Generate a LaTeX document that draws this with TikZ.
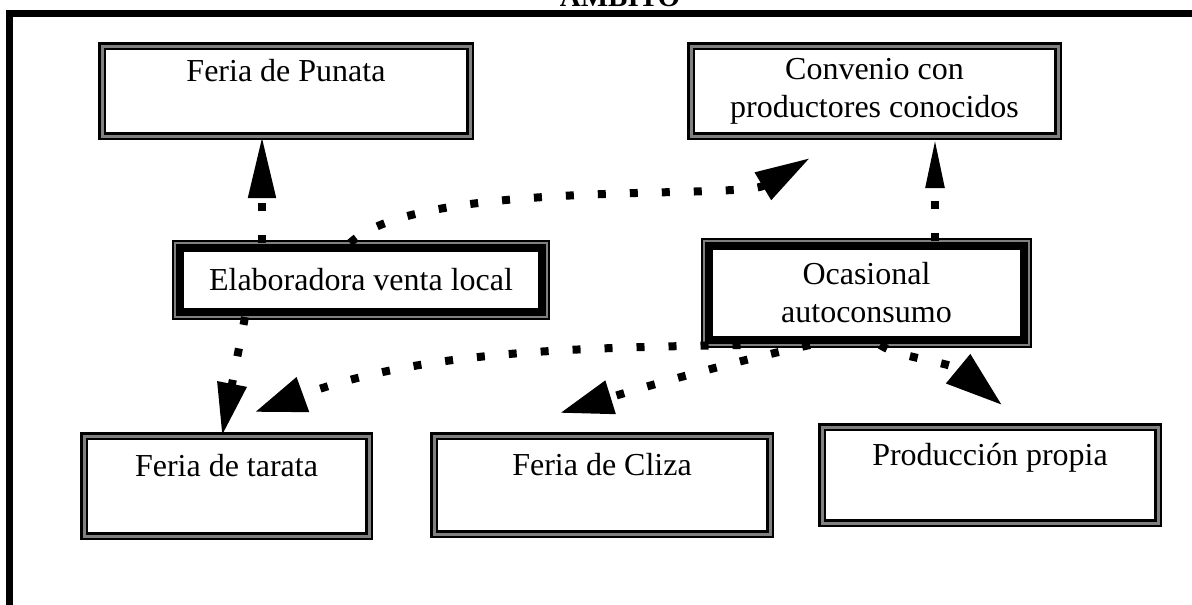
\documentclass[tikz,border=0pt]{standalone}
\usepackage{fontspec}
\setmainfont{Liberation Serif}
\usetikzlibrary{arrows.meta}
\definecolor{framegray}{gray}{0.5}
\begin{document}
\begin{tikzpicture}[x=1pt,y=-1pt,
  every node/.style={font=\fontsize{32}{38}\selectfont, align=center, outer sep=0pt, inner sep=0pt},
  box/.style={draw=black, line width=2.5pt, double=framegray, double distance=3pt, fill=white},
  strongbox/.style={draw=black, line width=2pt, double=framegray, double distance=2pt, fill=white},
  strongframe/.style={draw=black, line width=8pt, line join=miter},
  toptext/.style={text height=22pt, text depth=41pt},
  flow/.style={line width=8pt, dash pattern=on 8pt off 24pt, line cap=butt},
]
\useasboundingbox (0,0) rectangle (1192,605);
\clip (0,0) rectangle (1192,605);
\fill[white] (0,0) rectangle (1192,605);

% outer frame (top and left)
\draw[line width=7pt, line join=miter] (9,610) -- (9,13.5) -- (1200,13.5);
\node[font=\bfseries\fontsize{29}{30}\selectfont, anchor=base] (title) at (620,6) {ÁMBITO};

% boxes
\node[box, toptext, minimum width=368pt, minimum height=90pt] (punata) at (286,91) {Feria de Punata};
\node[box, minimum width=367pt, minimum height=90pt] (conv) at (874.5,91) {Convenio con\\productores conocidos};
\node[strongbox, minimum width=372pt, minimum height=74pt] (elab) at (361,280) {Elaboradora venta local};
\node[strongbox, minimum width=325pt, minimum height=104pt] (ocas) at (866.5,293) {Ocasional\\autoconsumo};
\node[box, toptext, minimum width=285pt, minimum height=100pt] (tarata) at (226.5,486) {Feria de tarata};
\node[box, toptext, minimum width=336pt, minimum height=98pt] (cliza) at (602,485) {Feria de Cliza};
\node[box, toptext, minimum width=336pt, minimum height=96pt] (prod) at (990,475) {Producción propia};

% inner heavy frames of the two central boxes
\draw[strongframe] ([xshift=5pt,yshift=5pt]elab.south west) rectangle ([xshift=-5pt,yshift=-5pt]elab.north east);
\draw[strongframe] ([xshift=5pt,yshift=5pt]ocas.south west) rectangle ([xshift=-5pt,yshift=-5pt]ocas.north east);

% connectors
\draw[flow, -{Triangle[length=62pt,width=26pt]}]
  ([xshift=-99pt]elab.north) -- ([xshift=-24pt]punata.south);
\draw[flow, -{Triangle[length=55pt,width=30pt]}]
  ([xshift=-11pt]elab.north) .. controls (420,178) and (740,200) .. ([xshift=-64.5pt,yshift=-22pt]conv.south);
\draw[flow, -{Triangle[length=52pt,width=17pt]}]
  ([xshift=68.5pt]ocas.north) -- ([xshift=60.5pt]conv.south);
\draw[flow, -{Triangle[length=53pt,width=28pt]}]
  ([xshift=-116pt]elab.south) -- ([xshift=-4.5pt]tarata.north);
\draw[flow, -{Triangle[length=51pt,width=35pt]}]
  ([xshift=-126pt]ocas.south) .. controls (560,348) and (420,352) .. ([xshift=28.5pt,yshift=24pt]tarata.north);
\draw[flow, -{Triangle[length=53pt,width=33pt]}]
  ([xshift=-56.5pt]ocas.south) .. controls (740,360) and (650,385) .. ([xshift=-42pt,yshift=23pt]cliza.north);
\draw[flow, -{Triangle[length=57pt,width=36pt]}]
  ([xshift=13.5pt]ocas.south) .. controls (900,358) and (950,362) .. ([xshift=12pt,yshift=22pt]prod.north);
\end{tikzpicture}
\end{document}
